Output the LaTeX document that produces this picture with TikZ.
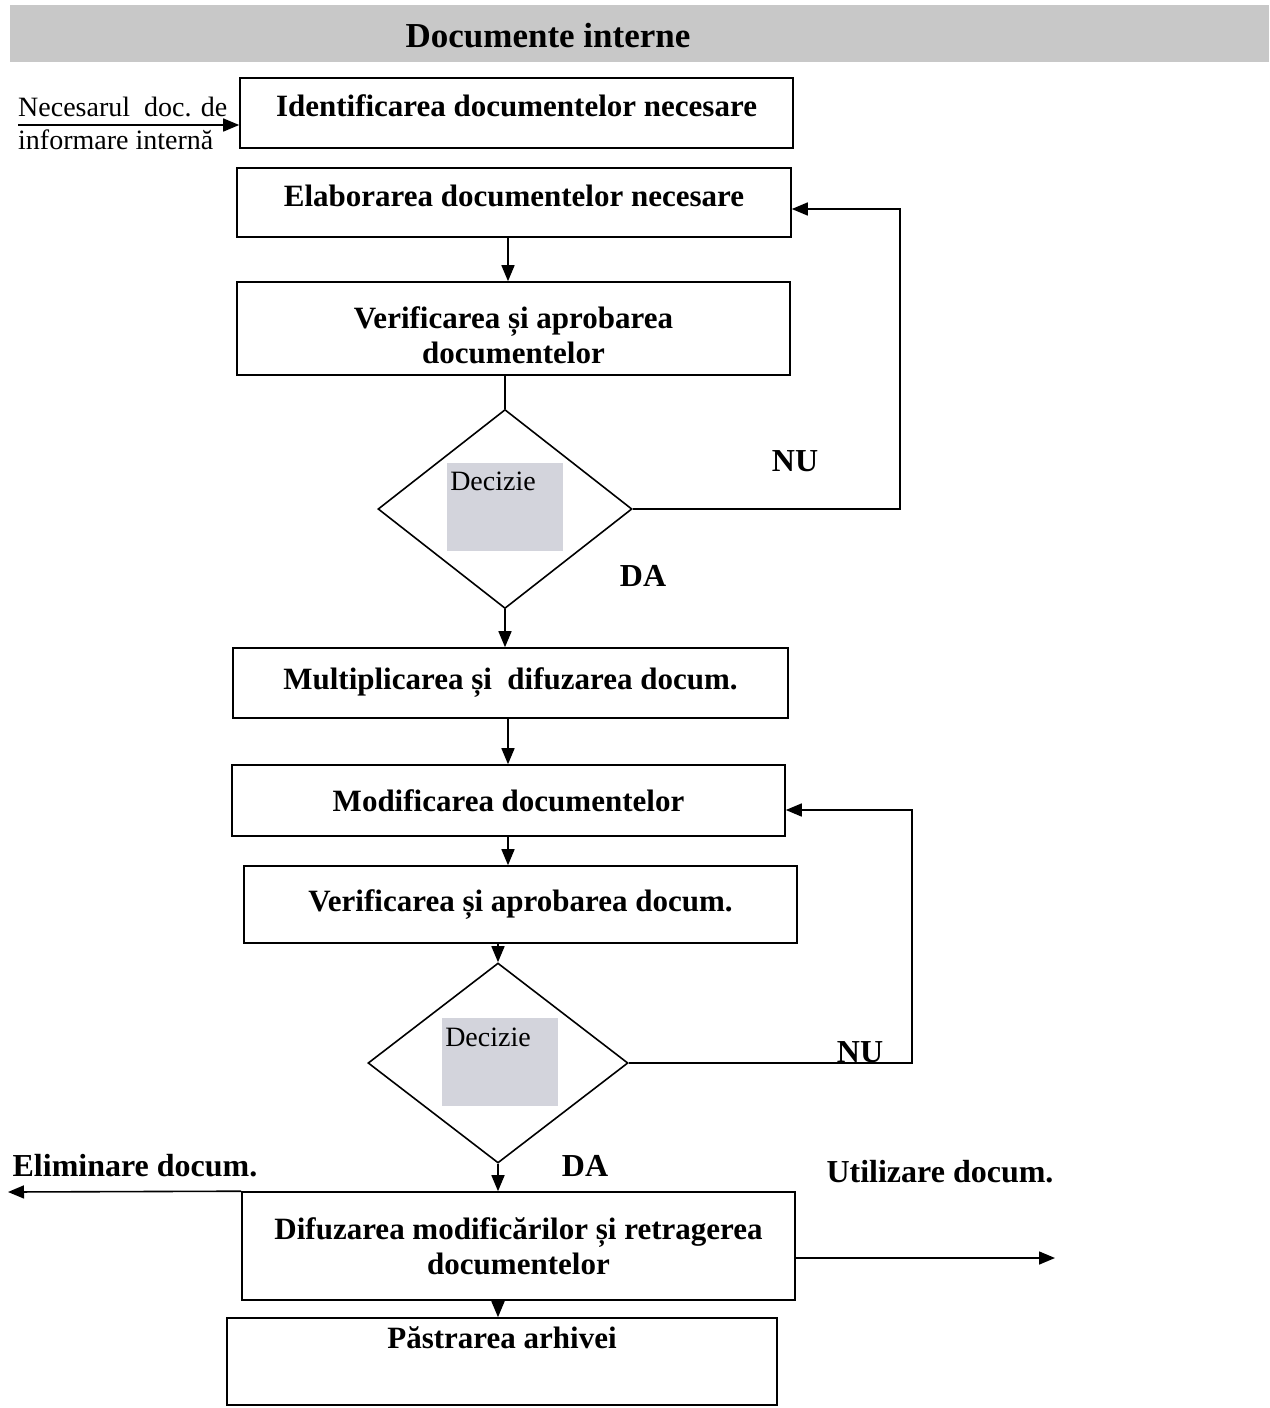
\documentclass[tikz,border=0pt]{standalone}
\usepackage{fontspec}
\setmainfont{Liberation Serif}
\usetikzlibrary{shapes.geometric,arrows.meta}
\definecolor{bandgray}{HTML}{C8C8C8}
\definecolor{decgray}{HTML}{D3D4DC}
\begin{document}
\begin{tikzpicture}[x=1pt,y=-1pt,
  box/.style={draw, line width=1.6pt, inner sep=0pt, align=center,
    font=\fontsize{31}{35}\selectfont\bfseries},
  lbl/.style={font=\fontsize{32}{36}\selectfont\bfseries, inner sep=0pt},
  dec/.style={draw, diamond, line width=1.6pt, inner sep=0pt},
  decbox/.style={fill=decgray, inner sep=0pt, minimum width=116pt, minimum height=88pt},
  dectxt/.style={font=\fontsize{28}{33}\selectfont, inner sep=0pt},
  ln/.style={line width=1.6pt},
  arr/.style={line width=1.6pt, -{Triangle[length=16pt,width=13pt]}}]
\useasboundingbox (0,0) rectangle (1269,1408);
% title band
\node[fill=bandgray, minimum width=1259pt, minimum height=57pt, inner sep=0pt] (band) at (639.5,33.5) {};
\node[font=\fontsize{35}{40}\selectfont\bfseries, inner sep=0pt] (title) at (548,36) {Documente interne};
% boxes
\node[box, minimum width=553pt, minimum height=70pt, text depth=14pt] (b1) at (516.5,113) {Identificarea documentelor necesare};
\node[box, minimum width=554pt, minimum height=69pt, text depth=14pt] (b2) at (514,202.5) {Elaborarea documentelor necesare};
\node[box, minimum width=553pt, minimum height=93pt] (b3) at (513.5,328.5) {};
\node[box, draw=none] (t3) at (513.5,335) {Verificarea și aprobarea\\documentelor};
\node[box, minimum width=555pt, minimum height=70pt] (b4) at (510.5,683) {Multiplicarea și\ \ difuzarea docum.};
\node[box, minimum width=553pt, minimum height=71pt] (b5) at (508.5,800.5) {Modificarea documentelor};
\node[box, minimum width=553pt, minimum height=77pt] (b6) at (520.5,904.5) {Verificarea și aprobarea docum.};
\node[box, minimum width=553pt, minimum height=108pt] (b7) at (518.5,1246) {Difuzarea modificărilor și retragerea\\documentelor};
\node[box, minimum width=550pt, minimum height=87pt] (b8) at (502,1361.5) {};
\node[box, draw=none] (t8) at (502,1338) {Păstrarea arhivei};
% decisions
\node[dec, minimum width=254pt, minimum height=199pt] (d1) at (505,509) {};
\node[decbox] (g1) at (505,507) {};
\node[dectxt] (dt1) at (493,481) {Decizie};
\node[dec, minimum width=260pt, minimum height=200pt] (d2) at (498,1063) {};
\node[decbox] (g2) at (499.5,1062) {};
\node[dectxt] (dt2) at (488,1037) {Decizie};
% labels
\node[lbl] (nu1) at (795,461) {NU};
\node[lbl] (da1) at (643,576) {DA};
\node[lbl] (nu2) at (860,1052) {NU};
\node[lbl] (da2) at (585,1166) {DA};
\node[lbl] (elim) at (135,1166) {Eliminare docum.};
\node[lbl] (util) at (940,1172) {Utilizare docum.};
\node[font=\fontsize{28}{33}\selectfont, align=left, anchor=west, inner sep=0pt] (inl) at (18,123) {Necesarul\ \ doc. de\\informare internă};
% coordinates
\coordinate (xa) at (508,0);
\coordinate (in) at (18,125);
\coordinate (l1) at (900,209);
\coordinate (l2) at (912,810);
\coordinate (el) at (8,1192);
\coordinate (ut) at (1055,1258);
% connectors
\draw[arr] (in) -- (in -| b1.west);
\draw[arr] (b2.south -| xa) -- (b3.north -| xa);
\draw[ln] (b3.south -| d1.north) -- (d1.north);
\draw[arr] (d1.south) -- (b4.north -| d1.south);
\draw[arr] (b4.south -| xa) -- (b5.north -| xa);
\draw[arr] (b5.south -| xa) -- (b6.north -| xa);
\draw[arr] (b6.south -| d2.north) -- (d2.north);
\draw[arr] (d2.south) -- (b7.north -| d2.south);
\draw[arr] (b7.south -| d2.south) -- (b8.north -| d2.south);
\draw[arr] (d1.east) -| (l1) -- (l1 -| b2.east);
\draw[arr] (d2.east) -| (l2) -- (l2 -| b5.east);
\draw[arr] (b7.north west) -- (el);
\draw[arr] (ut -| b7.east) -- (ut);
\end{tikzpicture}
\end{document}
